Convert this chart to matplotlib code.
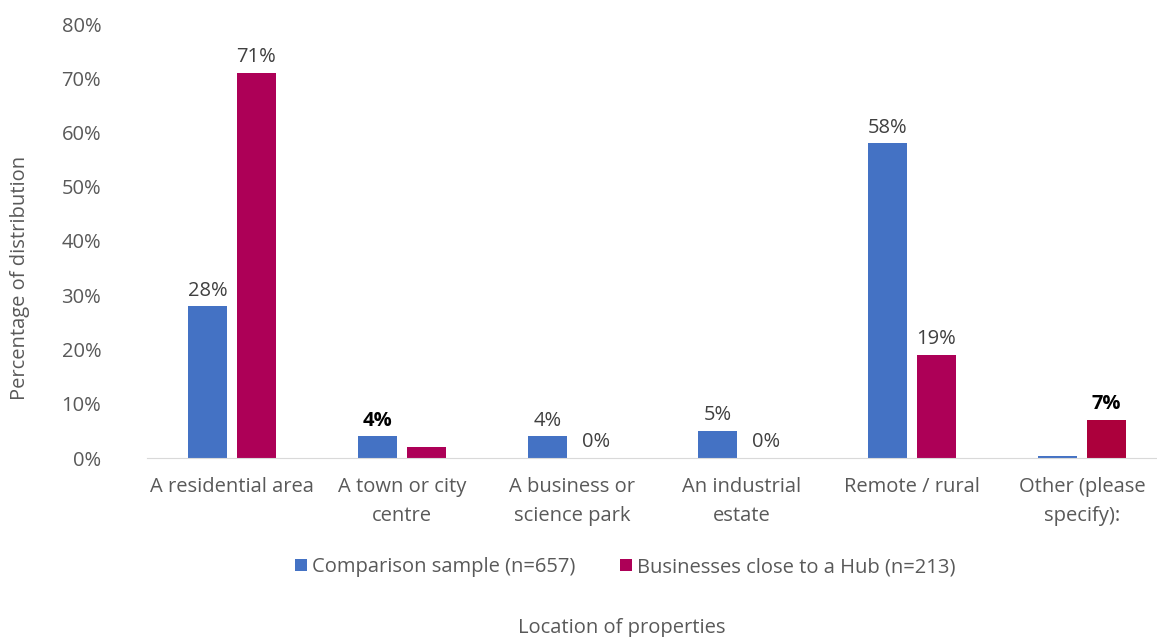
import numpy as np
import matplotlib.pyplot as plt

categories = ["A residential area", "A town or city\ncentre", "A business or\nscience park",
              "An industrial\nestate", "Remote / rural", "Other (please\nspecify):"]
comparison = [28, 4, 4, 5, 58, 0.4]
hub = [71, 2, 0, 0, 19, 7]
comparison_labels = ["28%", "4%", "4%", "5%", "58%", None]
hub_labels = ["71%", None, "0%", "0%", "19%", "7%"]
bold_comparison = [False, True, False, False, False, False]
bold_hub = [False, False, False, False, False, True]

blue = "#4472C4"
crimson = "#AD0057"
hub_colors = [crimson] * 5 + ["#AC003C"]

plt.rcParams['font.family'] = ['Open Sans', 'DejaVu Sans']

fig = plt.figure(figsize=(11.57, 6.37), dpi=100)
ax = fig.add_axes([147 / 1157, 1 - 458 / 637, 1020 / 1157, 434 / 637])

x = np.arange(len(categories))
w = 0.224
off = 0.144
b1 = ax.bar(x - off, comparison, w, color=blue, label="Comparison sample (n=657)")
b2 = ax.bar(x + off, hub, w, color=hub_colors, label="Businesses close to a Hub (n=213)")


def put_labels(xs, vals, labels, bolds):
    for xi, v, lab, bold in zip(xs, vals, labels, bolds):
        if lab:
            ax.annotate(lab, (xi, v), xytext=(0, 4), textcoords="offset points",
                        ha="center", va="bottom", fontsize=14.5,
                        color="black" if bold else "#404040",
                        fontweight="bold" if bold else "normal")


put_labels(x - off, comparison, comparison_labels, bold_comparison)
put_labels(x + off, hub, hub_labels, bold_hub)

ax.set_xlim(-0.5, len(categories) - 0.5)
ax.set_ylim(0, 80)
ax.set_yticks(np.arange(0, 81, 10))
ax.set_yticklabels([f"{t}%" for t in range(0, 81, 10)])
ax.set_xticks(x)
ax.set_xticklabels(categories, linespacing=1.55)
ax.tick_params(axis="both", length=0, labelsize=14.5, colors="#595959")
ax.tick_params(axis="x", pad=14)
ax.tick_params(axis="y", pad=33)
for s in ["top", "right", "left"]:
    ax.spines[s].set_visible(False)
ax.spines["bottom"].set_color("#D9D9D9")

fig.text(20 / 1157, 1 - 278 / 637, "Percentage of distribution", rotation=90,
         ha="center", va="center", fontsize=14.5, color="#595959")
fig.text(622 / 1157, 1 - 628 / 637, "Location of properties",
         ha="center", va="center", fontsize=14.5, color="#595959")

fig.legend(handles=[b1, b2], loc="center", bbox_to_anchor=(625 / 1157, 1 - 567 / 637),
           ncol=2, frameon=False, fontsize=14.5, labelcolor="#595959",
           handlelength=0.6, handleheight=0.6, handletextpad=0.25, columnspacing=2.2)

fig.savefig("out.png", dpi=100)
